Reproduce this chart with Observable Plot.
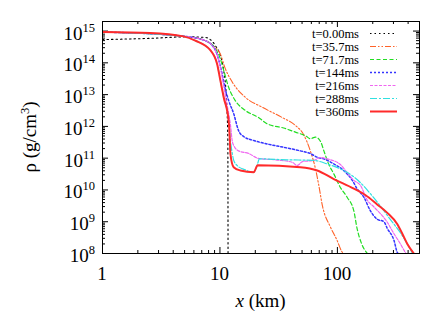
<!DOCTYPE html>
<html><head><meta charset="utf-8">
<script src="https://cdn.jsdelivr.net/npm/d3@7"></script>
<script src="https://cdn.jsdelivr.net/npm/@observablehq/plot@0.6"></script>
<style>body{margin:0;background:#fff}</style>
</head><body><div id="chart"></div>
<script>
// ---- data: [x (km), rho (g/cm^3)] ----
const seriesNames = ["t=0.00ms","t=35.7ms","t=71.7ms","t=144ms","t=216ms","t=288ms","t=360ms"];
const t000 = [[1,5.4e14],[2.55,5.9e14],[5.27,6.6e14],[7.5,6.3e14],[9.14,3.5e14],[10.08,1.7e14],[10.76,5.8e13],[11.34,8.3e12],[11.67,3.6e11],[11.72,1e8]];
const t357 = [[1,9.3e14],[4.88,6.9e14],[7.5,5.0e14],[9.14,3.0e14],[10.08,1.9e14],[11.0,7.2e13],[12.71,2.5e13],[16.4,8.3e12],[22.9,4.0e12],[33.9,1.9e12],[43.9,1.07e12],[51.6,5.5e11],[58.8,1.7e11],[65,4.7e10],[69.2,1.5e10],[74.5,3.2e9],[87.3,6.8e8],[99.3,2.6e8],[109,1.15e8],[112,1e8]];
const t717 = [[1,9.3e14],[4.88,6.9e14],[7.5,5.0e14],[9.14,2.8e14],[9.9,1.6e14],[10.76,5.8e13],[11.86,1.7e13],[13.5,6.5e12],[16.4,3.2e12],[21.3,1.9e12],[25.3,1.2e12],[34.9,8.9e11],[43.9,6.6e11],[53.8,5.0e11],[58.8,4.1e11],[65,4.6e11],[72,3.3e11],[76.7,1.7e11],[84.1,6.6e10],[93.2,3.2e10],[106,1.2e10],[121,5.9e9],[138,2.2e9],[147,6.2e8],[161,2.0e8],[180,1e8]];
const t144 = [[1,9.3e14],[4.88,6.9e14],[7.5,5.0e14],[9.14,2.5e14],[9.9,1.0e14],[10.5,4.0e13],[11.0,1.7e13],[11.86,6.5e12],[13.1,2.5e12],[14.4,7.4e11],[15.9,4.8e11],[19.4,3.6e11],[25.2,2.8e11],[34.9,2.2e11],[48.3,1.7e11],[58.8,1.4e11],[67.3,1.07e11],[76.7,9.5e10],[93.2,6.6e10],[113,4.1e10],[134,2.0e10],[147,1.1e10],[168,5.9e9],[191,2.2e9],[218,1.2e9],[249,1.0e9],[265,6.3e8],[303,2.6e8],[324,1.07e8],[328,1e8]];
const t216 = [[1,9.3e14],[4.88,6.9e14],[7.5,5.0e14],[9.14,2.5e14],[9.9,9.5e13],[10.5,3.2e13],[11.0,1.2e13],[11.8,2.8e12],[12.3,1.07e12],[12.7,3.6e11],[13.1,2.5e11],[14.4,1.7e11],[17.6,1.4e11],[21.3,9.8e10],[31.6,8.7e10],[41.3,7.4e10],[45.5,5.9e10],[50.5,7.8e10],[63,8.5e10],[71.6,1.05e11],[81.7,9.5e10],[106,6.3e10],[121,3.5e10],[138,2.0e10],[157,1.4e10],[180,4.7e9],[205,2.9e9],[265,9.8e8],[303,4.2e8],[344,2.0e8],[380,1.05e8],[383,1e8]];
const t288 = [[1,9.3e14],[4.88,6.8e14],[6.17,5.0e14],[8.28,2.5e14],[9.45,9.3e13],[10.08,2.8e13],[10.76,8.3e12],[11.86,1.5e12],[12.27,3.6e11],[12.7,1.5e11],[13.1,8.5e10],[14.0,5.9e10],[16.4,4.3e10],[19.4,3.6e10],[20.7,5.9e10],[21.7,9.5e10],[37.3,8.9e10],[63,8.5e10],[81.7,6.6e10],[113,4.1e10],[134,2.8e10],[157,1.7e10],[191,7.6e9],[231,3.2e9],[281,1.2e9],[344,4.5e8],[394,2.0e8],[436,1e8]];
const t360 = [[1,9.3e14],[2.55,8.7e14],[4.88,6.8e14],[6.17,5.0e14],[8.28,2.5e14],[9.45,9.3e13],[10.08,2.8e13],[10.76,8.3e12],[11.86,1.5e12],[12.14,3.6e11],[12.27,1.4e11],[13.09,5.2e10],[14.93,4.1e10],[19.37,3.6e10],[20.96,6.0e10],[48.5,5.2e10],[67.3,4.1e10],[93.2,2.2e10],[138,1.1e10],[174,6.8e9],[218,3.5e9],[266,1.9e9],[323,8.5e8],[357,4.2e8],[394,2.0e8],[448,1e8]];
const allSeries = [t000,t357,t717,t144,t216,t288,t360];

const xMajor = [1,10,100];
const xMinor = [2,3,4,5,6,7,8,9,20,30,40,50,60,70,80,90,200,300,400,500];
const yExp = [8,9,10,11,12,13,14,15];
const yMajor = yExp.map(e => Math.pow(10,e));
const yMinor = [];
for (const e of yExp) for (const k of [2,3,4,5,6,7,8,9]) if (k*Math.pow(10,e) <= 2e15) yMinor.push(k*Math.pow(10,e));

// ---- styles ----
const colors = ["#000000","#ff6228","#22dd22","#3434ff","#f066f0","#30e0e0","#ff2a2a"];
const dashes = ["1.5,3","6,2,1.5,2,1.5,2","4,2.5","2,2","3,1.5","7,2,2,2",null];
const widths = [1.1,1.1,1.2,1.5,1.2,1.2,2];

const W = 447, H = 313, ML = 102, MR = 28, MT = 21, MB = 60;
const FW = W - ML - MR, FH = H - MT - MB;
const FONT = "'Liberation Serif', 'Times New Roman', serif";

const tickMarks = [
  Plot.tickY(yMajor, {y: d => d, insetRight: FW - 6, stroke: "#000"}),
  Plot.tickY(yMajor, {y: d => d, insetLeft: FW - 6, stroke: "#000"}),
  Plot.tickY(yMinor, {y: d => d, insetRight: FW - 3, stroke: "#000"}),
  Plot.tickY(yMinor, {y: d => d, insetLeft: FW - 3, stroke: "#000"}),
  Plot.tickX(xMajor, {x: d => d, insetTop: FH - 6, stroke: "#000"}),
  Plot.tickX(xMajor, {x: d => d, insetBottom: FH - 6, stroke: "#000"}),
  Plot.tickX(xMinor, {x: d => d, insetTop: FH - 3, stroke: "#000"}),
  Plot.tickX(xMinor, {x: d => d, insetBottom: FH - 3, stroke: "#000"})
];

const lineMarks = allSeries.map((s, i) => Plot.line(s, {
  x: d => d[0], y: d => d[1], stroke: colors[i], strokeWidth: widths[i],
  strokeDasharray: dashes[i], curve: "monotone-x", clip: true
}));

const plot = Plot.plot({
  width: W, height: H,
  marginLeft: ML, marginRight: MR, marginTop: MT, marginBottom: MB,
  x: {type: "log", domain: [1, 500], axis: null},
  y: {type: "log", domain: [1e8, 2e15], axis: null},
  style: {fontFamily: FONT, background: "#fff", overflow: "visible"},
  marks: [...tickMarks, ...lineMarks, Plot.frame({stroke: "#000", strokeWidth: 1})]
});

document.getElementById("chart").appendChild(plot);
const sx = plot.scale("x"), sy = plot.scale("y");
const svg = d3.select(plot);
const g = svg.append("g").style("font-family", FONT).attr("fill", "#000");

// y tick labels with superscript exponents
yExp.forEach((e, i) => {
  const t = g.append("text").attr("x", ML - 7).attr("y", sy.apply(yMajor[i]) + 9)
    .attr("text-anchor", "end").attr("font-size", 19);
  t.append("tspan").text("10");
  t.append("tspan").attr("dy", -8).attr("font-size", 12.5).text(String(e));
});
// x tick labels
xMajor.forEach(v => {
  g.append("text").attr("x", sx.apply(v)).attr("y", H - MB + 27)
    .attr("text-anchor", "middle").attr("font-size", 19).text(String(v));
});
// axis titles
const xt = g.append("text").attr("x", ML + FW / 2).attr("y", H - 6)
  .attr("text-anchor", "middle").attr("font-size", 19);
xt.append("tspan").attr("font-style", "italic").text("x");
xt.append("tspan").text(" (km)");
const yt = g.append("text").attr("transform", `translate(36,${MT + FH / 2}) rotate(-90)`)
  .attr("text-anchor", "middle").attr("font-size", 19);
yt.append("tspan").text("ρ (g/cm");
yt.append("tspan").attr("dy", -7).attr("font-size", 12.5).text("3");
yt.append("tspan").attr("dy", 7).text(")");

// legend inside frame, top right
seriesNames.forEach((name, i) => {
  const cy = MT + 12.5 + 13 * i;
  g.append("text").attr("x", ML + FW - 60).attr("y", cy + 4.3)
    .attr("text-anchor", "end").attr("font-size", 12.5).text(name);
  g.append("line").attr("x1", ML + FW - 49).attr("x2", ML + FW - 22)
    .attr("y1", cy).attr("y2", cy).attr("stroke", colors[i])
    .attr("stroke-width", widths[i]).attr("stroke-dasharray", dashes[i]);
});
</script>
</body></html>
